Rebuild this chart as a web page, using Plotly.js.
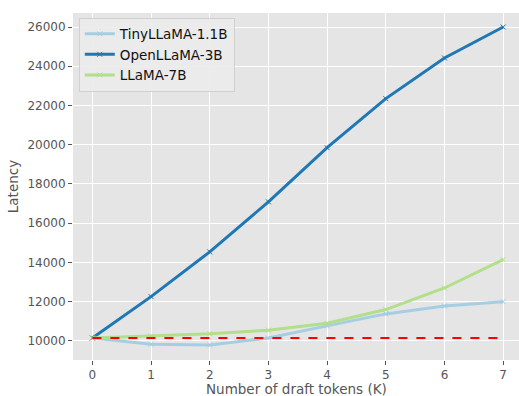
<!DOCTYPE html>
<html><head><meta charset="utf-8">
<script src="https://cdn.plot.ly/plotly-3.0.1.min.js"></script>
<style>html,body{margin:0;padding:0;background:#fff}#c{width:519px;height:396px}</style>
</head><body><div id="c"></div>
<script>
const ks = [0,1,2,3,4,5,6,7];
const tinyLlama = [10150,9830,9800,10150,10770,11380,11780,12000];
const openLlama = [10150,12260,14540,17090,19850,22350,24420,26000];
const llama7b = [10150,10250,10370,10550,10900,11600,12700,14150];
const baseline = 10150;
const yTicks = [10000,12000,14000,16000,18000,20000,22000,24000,26000];
const names = ['TinyLLaMA-1.1B','OpenLLaMA-3B','LLaMA-7B'];
const colors = ['#a6cee3','#1f78b4','#b2df8a'];
const series = [tinyLlama, openLlama, llama7b];
const traces = series.map((s,i)=>({
  x: ks, y: s, name: names[i], type:'scatter', mode:'lines+markers',
  line:{color:colors[i], width:3},
  marker:{symbol:'x-thin', size:5, color:colors[i], line:{color:colors[i], width:1}}
}));
traces.push({x:[ks[0], ks[ks.length-1]], y:[baseline, baseline], type:'scatter', mode:'lines',
  line:{color:'#ff0000', width:2, dash:'dash'}, showlegend:false});
const layout = {
  width:519, height:396,
  margin:{l:73, r:0, t:13, b:36},
  paper_bgcolor:'#fff', plot_bgcolor:'#e5e5e5',
  font:{family:'DejaVu Sans', size:13, color:'#555'},
  xaxis:{range:[-0.33,7.27], tickvals:ks, showgrid:true, gridcolor:'#fff', gridwidth:1,
    zeroline:false, ticks:'outside', ticklen:4, tickcolor:'#555', tickfont:{size:12, color:'#555'}},
  yaxis:{range:[9030,26714], tickvals:yTicks, tickformat:'d',
    showgrid:true, gridcolor:'#fff', gridwidth:1, zeroline:false, ticks:'outside', ticklen:4,
    tickcolor:'#555', tickfont:{size:12, color:'#555'},
    title:{text:'Latency', font:{size:13.5, color:'#555'}, standoff:5}},
  annotations:[{text:'Number of draft tokens (K)', xref:'paper', yref:'paper', x:0.5, y:0,
    xanchor:'center', yanchor:'top', yshift:-19, showarrow:false, font:{size:13.5, color:'#555'}}],
  legend:{x:0.013, y:0.987, xanchor:'left', yanchor:'top', bgcolor:'rgba(235,235,235,0.9)',
    bordercolor:'#d0d0d0', borderwidth:1, font:{size:13.5, color:'#111'}, tracegroupgap:0, itemwidth:30},
  showlegend:true
};
Plotly.newPlot('c', traces, layout, {displayModeBar:false, staticPlot:true});
</script></body></html>
